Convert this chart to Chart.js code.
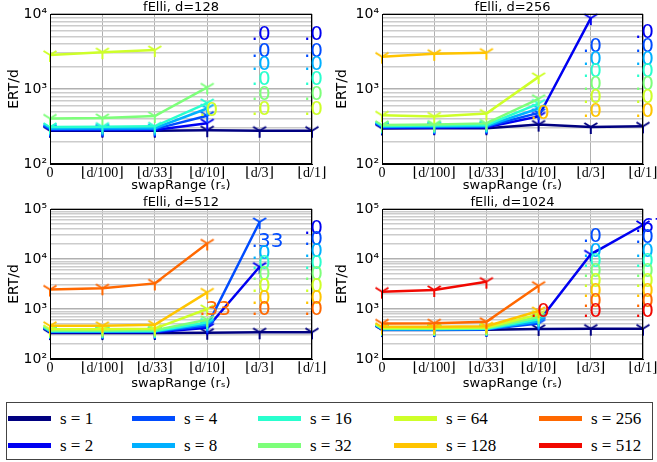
<!DOCTYPE html>
<html lang="en">
<head>
<meta charset="UTF-8">
<title>fElli swapRange</title>
<script src="https://cdn.jsdelivr.net/npm/chart.js"></script>
<style>
    body {
        margin: 0;
        width: 657px;
        height: 462px;
        background: #fff;
        position: relative;
        overflow: hidden;
    }
    canvas { position: absolute; }
    #c128  { left: 0;     top: 0; }
    #c256  { left: 328px; top: 0; }
    #c512  { left: 0;     top: 195px; }
    #c1024 { left: 328px; top: 195px; }
    #legend {
        position: absolute;
        left: 6px; top: 402px;
        width: 647px; height: 58px;
        border: 1px solid #444;
        box-sizing: border-box;
    }
    .sw { position: absolute; width: 43px; height: 5px; }
    .lb {
        position: absolute;
        font-family: "Liberation Serif", "DejaVu Serif", serif;
        font-size: 17px;
        line-height: 17px;
        color: #000;
        white-space: nowrap;
    }
</style>
</head>
<body>
<canvas id="c128" width="328" height="195"></canvas>
<canvas id="c256" width="329" height="195"></canvas>
<canvas id="c512" width="328" height="198"></canvas>
<canvas id="c1024" width="329" height="198"></canvas>
<div id="legend"></div>

<script>
// swapRange categories (x axis)
const columns = ['0', '⌊d/100⌋', '⌊d/33⌋', '⌊d/10⌋', '⌊d/3⌋', '⌊d/1⌋'];
const sizes = [1, 2, 4, 8, 16, 32, 64, 128, 256, 512];
const colors = ['#000080', '#0000f1', '#004cff', '#00b0ff', '#29ffce',
                '#7dff7a', '#ceff29', '#ffc400', '#ff6800', '#f10800'];

// ERT/d, one row per s (s=1 first), null = no successful run
const ert128 = [
    [278, 278, 278, 282, 278, 278],
    [284, 284, 285, 350, null, null],
    [290, 291, 292, 440, null, null],
    [298, 300, 300, 550, null, null],
    [312, 315, 318, 650, null, null],
    [405, 410, 435, 1050, null, null],
    [2850, 3100, 3300, null, null, null]
];
const ert256 = [
    [298, 300, 300, 335, 312, 318],
    [305, 306, 310, 430, 8800, null],
    [310, 312, 316, 480, null, null],
    [316, 318, 322, 550, null, null],
    [322, 325, 332, 640, null, null],
    [332, 335, 348, 740, null, null],
    [445, 430, 470, 1450, null, null],
    [2700, 2950, 3050, null, null, null]
];
const ert512 = [
    [330, 330, 332, 335, 342, 342],
    [342, 342, 344, 420, 7000, null],
    [350, 350, 352, 460, 55000, null],
    [356, 356, 358, 500, null, null],
    [362, 362, 365, 540, null, null],
    [372, 372, 378, 610, null, null],
    [395, 395, 405, 1000, null, null],
    [460, 460, 485, 2150, null, null],
    [2450, 2600, 3250, 20500, null, null]
];
const ert1024 = [
    [380, 380, 385, 400, 405, 405],
    [385, 385, 388, 560, 12400, 47900],
    [390, 390, 392, 510, null, null],
    [395, 395, 398, 560, null, null],
    [400, 400, 405, 620, null, null],
    [408, 408, 413, 690, null, null],
    [418, 418, 425, 780, null, null],
    [440, 440, 452, 910, null, null],
    [515, 520, 555, 2920, null, null],
    [2220, 2400, 3520, null, null, null]
];

// success-rate notes: [column, s index, ERT/d level, text]
const notes128 = [
    [3, 6, 510, '.0'],
    [4, 1, 5250, '.0'], [4, 2, 3140, '.0'], [4, 3, 2090, '.0'],
    [4, 4, 1320, '.0'], [4, 5, 830, '.0'], [4, 6, 525, '.0'],
    [5, 1, 5250, '.0'], [5, 2, 3140, '.0'], [5, 3, 2090, '.0'],
    [5, 4, 1320, '.0'], [5, 5, 830, '.0'], [5, 6, 525, '.0']
];
const notes256 = [
    [3, 7, 474, '.0'],
    [4, 2, 3660, '.0'], [4, 3, 2440, '.0'], [4, 4, 1700, '.0'],
    [4, 5, 1130, '.0'], [4, 6, 752, '.0'], [4, 7, 498, '.0'],
    [5, 1, 5530, '.0'], [5, 2, 3660, '.0'], [5, 3, 2440, '.0'],
    [5, 4, 1700, '.0'], [5, 5, 1130, '.0'], [5, 6, 752, '.0'], [5, 7, 498, '.0']
];
const notes512 = [
    [3, 8, 955, '.33'],
    [4, 2, 22200, '.33'], [4, 3, 13000, '.0'], [4, 4, 8200, '.0'],
    [4, 5, 4790, '.0'], [4, 6, 2790, '.0'], [4, 7, 1636, '.0'], [4, 8, 955, '.0'],
    [5, 1, 41100, '.0'], [5, 2, 24000, '.0'], [5, 3, 14000, '.0'], [5, 4, 8200, '.0'],
    [5, 5, 4790, '.0'], [5, 6, 2790, '.0'], [5, 7, 1636, '.0'], [5, 8, 955, '.0']
];
const notes1024 = [
    [3, 9, 884, '.0'],
    [4, 2, 27900, '.0'], [4, 3, 14100, '.0'], [4, 4, 8900, '.0'], [4, 5, 5620, '.0'],
    [4, 6, 3550, '.0'], [4, 7, 2240, '.0'], [4, 8, 1410, '.0'], [4, 9, 880, '.0'],
    [5, 1, 44300, '.67'], [5, 2, 26300, '.0'], [5, 3, 14000, '.0'], [5, 4, 8830, '.0'],
    [5, 5, 5570, '.0'], [5, 6, 3520, '.0'], [5, 7, 2220, '.0'], [5, 8, 1400, '.0'], [5, 9, 884, '.0']
];

const sans = '"DejaVu Sans", sans-serif';
const serif = '"Liberation Serif", "DejaVu Serif", serif';
const sup = { 2: '²', 3: '³', 4: '⁴', 5: '⁵' };

function isPow10(v) {
    const e = Math.round(Math.log10(v));
    return Math.abs(v - Math.pow(10, e)) < 1e-6 ? e : null;
}

// tri_down marker like matplotlib's '1'
function triDown(color) {
    const c = document.createElement('canvas');
    c.width = 16; c.height = 16;
    const g = c.getContext('2d');
    g.strokeStyle = color;
    g.lineWidth = 2;
    g.beginPath();
    g.moveTo(8, 8); g.lineTo(8, 15);
    g.moveTo(8, 8); g.lineTo(1.5, 4);
    g.moveTo(8, 8); g.lineTo(14.5, 4);
    g.stroke();
    return c;
}
const markers = colors.map(triDown);

const framePlugin = {
    id: 'frame',
    afterDatasetsDraw(chart) {
        const a = chart.chartArea, ctx = chart.ctx;
        ctx.save();
        ctx.strokeStyle = '#000';
        ctx.lineWidth = 1;
        ctx.strokeRect(a.left + 0.5, a.top + 0.5, a.right - a.left - 1, a.bottom - a.top - 1);
        ctx.restore();
    }
};

const notesPlugin = {
    id: 'notes',
    afterDraw(chart, args, opts) {
        const { ctx, scales: { x, y } } = chart;
        ctx.save();
        ctx.font = '20px ' + sans;
        ctx.textBaseline = 'middle';
        ctx.textAlign = 'left';
        for (const [col, si, val, txt] of opts.items) {
            ctx.fillStyle = colors[si];
            ctx.fillText(txt, x.getPixelForValue(col) - 8, y.getPixelForValue(val));
        }
        ctx.restore();
    }
};

function panel(id, d, rows, notes, ymax, yWidth, padRight, xHeight) {
    const datasets = [];
    rows.forEach((vals, i) => {
        datasets.push({
            label: 's=' + sizes[i],
            data: vals,
            borderColor: colors[i],
            backgroundColor: colors[i],
            borderWidth: 2.5,
            pointStyle: markers[i],
            pointRadius: 6,
            spanGaps: false,
            clip: 12,
            order: 10 - i
        });
    });
    new Chart(document.getElementById(id), {
        type: 'line',
        data: { labels: columns, datasets: datasets },
        options: {
            responsive: false,
            animation: false,
            devicePixelRatio: 1,
            layout: { padding: { left: 0, right: padRight, top: 0, bottom: 0 } },
            plugins: {
                legend: { display: false },
                tooltip: { enabled: false },
                title: {
                    display: true,
                    fullSize: false,
                    text: 'fElli, d=' + d,
                    color: '#000',
                    font: { family: sans, size: 13, weight: 'normal', lineHeight: 1 },
                    padding: { top: 1, bottom: 0 }
                },
                notes: { items: notes }
            },
            scales: {
                x: {
                    type: 'category',
                    offset: false,
                    grid: { color: '#b0b0b0', lineWidth: 1, drawTicks: false },
                    border: { color: '#000' },
                    ticks: {
                        autoSkip: false, maxRotation: 0, padding: 1,
                        color: '#000', font: { family: serif, size: 14 }
                    },
                    title: {
                        display: true, text: 'swapRange (rₛ)', color: '#000',
                        font: { family: sans, size: 13 }, padding: { top: 0, bottom: 2 }
                    },
                    afterFit: s => { s.height = xHeight; s.paddingLeft = 0; s.paddingRight = 0; }
                },
                y: {
                    type: 'logarithmic',
                    min: 100,
                    max: ymax,
                    afterBuildTicks: s => {
                        const t = [];
                        for (let e = 2; Math.pow(10, e) <= ymax; e++) {
                            for (let m = 1; m < 10; m++) {
                                const v = m * Math.pow(10, e);
                                if (v <= ymax) t.push({ value: v });
                            }
                        }
                        s.ticks = t;
                    },
                    afterFit: s => { s.width = yWidth; },
                    grid: {
                        color: c => isPow10(c.tick.value) !== null ? '#b0b0b0' : '#cccccc',
                        lineWidth: 1.5,
                        drawTicks: false
                    },
                    border: { color: '#000' },
                    ticks: {
                        autoSkip: false, padding: 3, color: '#000',
                        font: { family: sans, size: 14 },
                        callback: v => {
                            const e = isPow10(v);
                            return e !== null ? '10' + sup[e] : '';
                        }
                    },
                    title: {
                        display: true, text: 'ERT/d', color: '#000',
                        font: { family: sans, size: 14 }, padding: { top: 6, bottom: 0 }
                    }
                }
            }
        },
        plugins: [framePlugin, notesPlugin]
    });
}

panel('c128', 128, ert128, notes128, 1e4, 50, 16, 31);
panel('c256', 256, ert256, notes256, 1e4, 54, 14, 31);
panel('c512', 512, ert512, notes512, 1e5, 50, 16, 34);
panel('c1024', 1024, ert1024, notes1024, 1e5, 54, 14, 34);

// legend: 5 columns x 2 rows, filled column by column
const legendCols = [1, 125, 251, 387, 532];
const legendRows = [16, 43];
const legend = document.getElementById('legend');
sizes.forEach((s, i) => {
    const x = legendCols[Math.floor(i / 2)];
    const y = legendRows[i % 2];
    const sw = document.createElement('div');
    sw.className = 'sw';
    sw.style.left = x + 'px';
    sw.style.top = (y - 3) + 'px';
    sw.style.background = colors[i];
    legend.appendChild(sw);
    const lb = document.createElement('div');
    lb.className = 'lb';
    lb.style.left = (x + 52) + 'px';
    lb.style.top = (y - 9) + 'px';
    lb.textContent = 's = ' + s;
    legend.appendChild(lb);
});
</script>
</body>
</html>
